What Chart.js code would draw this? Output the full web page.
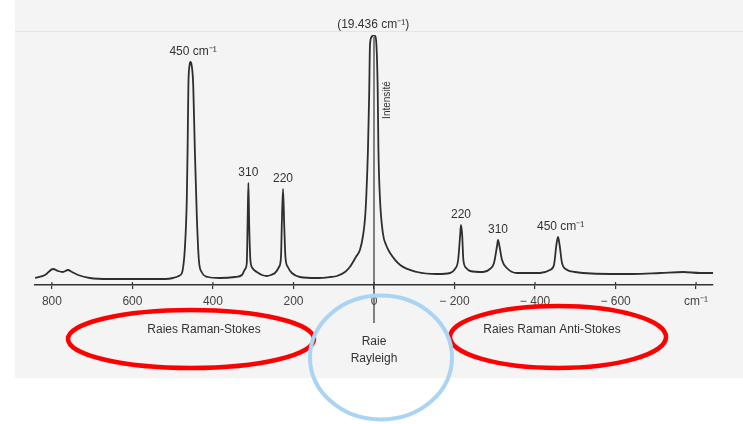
<!DOCTYPE html>
<html>
<head>
<meta charset="utf-8">
<script src="https://cdn.jsdelivr.net/npm/chart.js@4.4.1/dist/chart.umd.min.js"></script>
<style>
  html, body { margin: 0; padding: 0; background: #fff; }
  #wrap { width: 743px; height: 424px; position: relative; }
</style>
</head>
<body>
<div id="wrap"><canvas id="ramanChart"></canvas></div>
<script>
// Raman shift (cm-1), left to right: Stokes side positive, anti-Stokes side negative
const shifts = [
  842, 817, 797, 785, 773, 760, 750, 735, 706, 656, 581, 519, 499, 485, 477,
  474, 470, 465, 463, 461, 458, 456, 453, 449, 445, 440, 435, 428, 412,
  383, 345, 328, 320, 316, 314, 312, 310, 307, 302, 298, 291, 278, 266, 256,
  246, 236, 231, 229, 226, 223, 220, 214, 204, 184, 142, 109, 92, 72, 60,
  45, 35, 27, 22, 19, 15, 12, 10, 6, 2, -4, -9, -11, -15, -22, -30, -40, -65,
  -107, -157, -189, -201, -209, -214, -216, -219, -222, -229, -239,
  -271, -288, -298, -306, -308, -312, -318, -330, -355,
  -412, -437, -447, -453, -457, -461, -467, -480, -499, -519,
  -586, -643, -711, -768, -810, -842
];
// intensite (unites arbitraires)
const intensity = [
  7, 10, 16, 14, 13, 15, 13, 10, 7, 6, 6, 6, 7, 9, 12,
  18, 35, 85, 135, 200, 220, 223, 220, 200, 135, 68, 25, 13, 8,
  7, 8, 10, 16, 22, 60, 102, 60, 25, 17, 15, 13, 10, 9, 10,
  12, 18, 28, 60, 96, 60, 28, 18, 12, 8, 7, 8, 9, 13, 18,
  28, 35, 50, 68, 90, 135, 190, 240, 248, 250, 248, 200, 135, 85, 52, 40, 32, 20,
  13, 11, 12, 16, 25, 50, 60, 50, 25, 17, 14,
  13, 16, 22, 40, 45, 38, 25, 17, 12,
  12, 15, 20, 40, 48, 40, 22, 15, 13, 12,
  11, 11, 12, 13, 12, 12
];

// etiquettes des pics
const peakShifts = [456, 312, 226, 2, -216, -308, -457];
const peakHeights = [223, 102, 96, 250, 60, 45, 48];
const peakLabels = ['450 cm⁻¹', '310', '220', '(19.436 cm⁻¹)', '220', '310', '450 cm⁻¹'];

// axe des x
const tickValues = [800, 600, 400, 200, 0, -200, -400, -600, -800];
const tickLabels = ['800', '600', '400', '200', '0', '− 200', '− 400', '− 600', 'cm⁻¹'];

const FONT = '"Liberation Sans", Arial, sans-serif';
const INK = '#333';

// fond du scan
const scanBackground = {
  id: 'scanBackground',
  beforeDraw(chart) {
    const ctx = chart.ctx;
    ctx.save();
    ctx.fillStyle = '#ffffff';
    ctx.fillRect(0, 0, chart.width, chart.height);
    ctx.fillStyle = '#f4f4f4';
    ctx.fillRect(15, 0, chart.width - 15, 378);
    ctx.strokeStyle = '#e4e4e4';
    ctx.lineWidth = 1;
    ctx.beginPath();
    ctx.moveTo(15, 31.5);
    ctx.lineTo(chart.width, 31.5);
    ctx.stroke();
    ctx.restore();
  }
};

// textes, axe vertical et annotations
const annotations = {
  id: 'annotations',
  afterDraw(chart) {
    const ctx = chart.ctx;
    const xs = chart.scales.x;
    const ys = chart.scales.y;
    const area = chart.chartArea;
    ctx.save();

    // petits traits au-dessus de l'axe
    ctx.strokeStyle = INK;
    ctx.lineWidth = 1.2;
    tickValues.forEach(v => {
      const px = xs.getPixelForValue(v);
      ctx.beginPath();
      ctx.moveTo(px, area.bottom - 3);
      ctx.lineTo(px, area.bottom);
      ctx.stroke();
    });

    // ligne verticale sous la raie Rayleigh
    const x0 = xs.getPixelForValue(0);
    ctx.beginPath();
    ctx.moveTo(x0, area.top + 2);
    ctx.lineTo(x0, 323);
    ctx.stroke();

    // etiquettes des pics
    ctx.fillStyle = INK;
    ctx.font = '12px ' + FONT;
    ctx.textBaseline = 'middle';
    peakLabels.forEach((t, i) => {
      const px = xs.getPixelForValue(peakShifts[i]);
      const py = ys.getPixelForValue(peakHeights[i]) - 10;
      if (t.startsWith('450')) {
        ctx.textAlign = 'left';
        ctx.fillText(t, px - 21, py);
      } else {
        ctx.textAlign = 'center';
        ctx.fillText(t, px, py);
      }
    });

    // Intensité (verticale)
    ctx.save();
    ctx.translate(x0 + 13, 100);
    ctx.rotate(-Math.PI / 2);
    ctx.textAlign = 'center';
    ctx.font = '10px ' + FONT;
    ctx.fillText('Intensité', 0, 0);
    ctx.restore();

    // legendes sous l'axe
    ctx.font = '12px ' + FONT;
    ctx.textAlign = 'center';
    ctx.fillText('Raies Raman-Stokes', 204, 330);
    ctx.fillText('Raies Raman Anti-Stokes', 552, 330);
    ctx.fillText('Raie', x0, 342);
    ctx.fillText('Rayleigh', x0, 359);

    // ellipses rouges et cercle bleu
    ctx.lineWidth = 4.5;
    ctx.strokeStyle = '#ff0000';
    ctx.beginPath();
    ctx.ellipse(191, 339, 123, 29, 0, 0, Math.PI * 2);
    ctx.stroke();
    ctx.beginPath();
    ctx.ellipse(558, 337, 108, 31, 0, 0, Math.PI * 2);
    ctx.stroke();
    ctx.lineWidth = 4;
    ctx.strokeStyle = '#a9d4f3';
    ctx.beginPath();
    ctx.ellipse(381, 357.5, 71, 62, 0, 0, Math.PI * 2);
    ctx.stroke();

    ctx.restore();
  }
};

const points = shifts.map((s, i) => ({ x: s, y: intensity[i] }));

const ctx = document.getElementById('ramanChart').getContext('2d');
const ramanChart = new Chart(ctx, {
  type: 'line',
  data: {
    datasets: [{
      label: 'Intensité',
      data: points,
      borderColor: '#2e2e2e',
      borderWidth: 1.8,
      pointRadius: 0,
      cubicInterpolationMode: 'monotone',
      fill: false
    }]
  },
  options: {
    responsive: true,
    maintainAspectRatio: false,
    animation: false,
    layout: { padding: { left: 35, right: 30, top: 35, bottom: 0 } },
    plugins: {
      legend: { display: false },
      tooltip: { enabled: false }
    },
    scales: {
      x: {
        type: 'linear',
        reverse: true,
        min: -842,
        max: 842,
        afterBuildTicks: s => { s.ticks = tickValues.map(v => ({ value: v })); },
        afterFit: s => { s.height = 424 - 285; },
        ticks: {
          callback: (v, i) => tickLabels[i],
          autoSkip: false,
          maxRotation: 0,
          padding: 5,
          color: '#444',
          font: { family: FONT, size: 12 }
        },
        grid: { drawOnChartArea: false, tickLength: 4, color: INK, lineWidth: 1.2 },
        border: { color: INK, width: 1.4 }
      },
      y: {
        display: false,
        min: 0,
        max: 250
      }
    }
  },
  plugins: [scanBackground, annotations]
});
</script>
</body>
</html>
